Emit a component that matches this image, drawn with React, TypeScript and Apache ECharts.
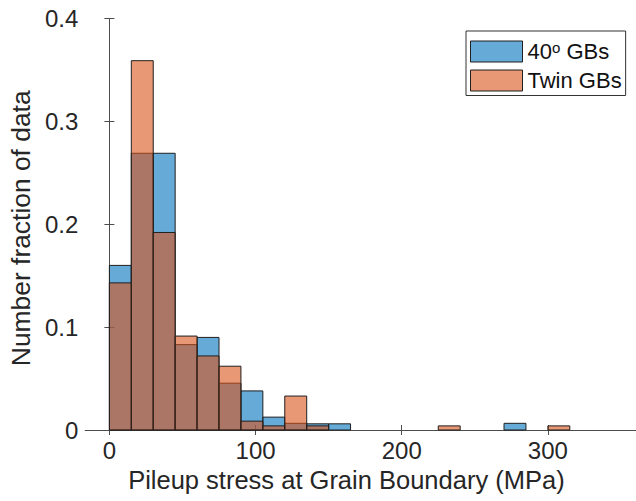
import React, { useEffect, useRef } from "react";
import * as echarts from "echarts";

const binWidth = 15;
const blueBinStarts = [0, 15, 30, 45, 60, 75, 90, 105, 120, 135, 150, 270];
const blueFractions = [0.16, 0.269, 0.269, 0.083, 0.09, 0.0455, 0.038, 0.0125, 0.0065, 0.006, 0.006, 0.0065];
const twinBinStarts = [0, 15, 30, 45, 60, 75, 90, 105, 120, 135, 225, 300];
const twinFractions = [0.143, 0.359, 0.192, 0.0913, 0.072, 0.062, 0.0086, 0.004, 0.033, 0.004, 0.004, 0.004];
const xTickValues = [0, 100, 200, 300];
const seriesNames = ["40° GBs", "Twin GBs"];

const FONT = "Liberation Sans, Arial, Helvetica, sans-serif";
const TEXT = "#262626";
const AXIS = "#4d4d4d";
const BLUE = "rgba(0,114,189,0.6)";
const ORANGE = "rgba(217,83,25,0.6)";
const EDGE = "#1f1f1f";

function histItem(fill: string) {
  return (params: any, api: any) => {
    const x0 = api.value(0);
    const h = api.value(1);
    const p1 = api.coord([x0, h]);
    const p2 = api.coord([x0 + binWidth, 0]);
    return {
      type: "rect",
      shape: { x: p1[0], y: p1[1], width: p2[0] - p1[0], height: p2[1] - p1[1] },
      style: { fill, stroke: EDGE, lineWidth: 1 },
    };
  };
}

export default function App() {
  const ref = useRef<HTMLDivElement>(null);
  useEffect(() => {
    if (!ref.current) return;
    const chart = echarts.init(ref.current, undefined, { renderer: "svg" });
    const axisCommon = {
      axisLine: { show: true, lineStyle: { color: AXIS, width: 1 } },
      splitLine: { show: false },
    };
    chart.setOption({
      animation: false,
      backgroundColor: "#ffffff",
      textStyle: { fontFamily: FONT },
      grid: { left: 79, top: 18.5, right: 1.5, bottom: 71, containLabel: false },
      legend: {
        data: seriesNames,
        orient: "vertical",
        left: 466,
        top: 31,
        padding: [9, 4, 4, 4],
        itemWidth: 52,
        itemHeight: 21,
        itemGap: 7,
        icon: "rect",
        backgroundColor: "#ffffff",
        borderColor: "#333333",
        borderWidth: 1,
        borderRadius: 0,
        itemStyle: { borderColor: EDGE, borderWidth: 1 },
        formatter: (name: string) => (name === seriesNames[0] ? "40{sup|o} GBs" : name),
        textStyle: {
          fontFamily: FONT,
          fontSize: 22,
          color: "#111111",
          rich: {
            sup: { fontFamily: FONT, fontSize: 15, color: "#111111", verticalAlign: "top", padding: [0, 0, 8, 0] },
          },
        },
      },
      xAxis: [
        {
          type: "value",
          min: -16.5,
          max: 362,
          ...axisCommon,
          axisTick: { show: true, inside: true, length: 5, customValues: xTickValues, lineStyle: { color: AXIS } },
          axisLabel: {
            show: true,
            customValues: xTickValues,
            margin: 8,
            fontSize: 24,
            color: TEXT,
            fontFamily: FONT,
          },
          name: "Pileup stress at Grain Boundary (MPa)",
          nameLocation: "middle",
          nameGap: 30,
          nameTextStyle: { fontSize: 25.5, color: TEXT, fontFamily: FONT, padding: [0, 31, 0, 0] },
        },
        {
          type: "value",
          position: "top",
          min: -16.5,
          max: 362,
          ...axisCommon,
          axisTick: { show: true, inside: true, length: 5, customValues: xTickValues, lineStyle: { color: AXIS } },
          axisLabel: { show: false },
        },
      ],
      yAxis: [
        {
          type: "value",
          min: 0,
          max: 0.4,
          interval: 0.1,
          ...axisCommon,
          axisTick: { show: true, inside: true, length: 5, lineStyle: { color: AXIS } },
          axisLabel: {
            margin: 7,
            fontSize: 24,
            color: TEXT,
            fontFamily: FONT,
            formatter: (v: number) => (v === 0 ? "0" : v.toFixed(1)),
          },
          name: "Number fraction of data",
          nameLocation: "middle",
          nameGap: 44,
          nameTextStyle: { fontSize: 26.4, color: TEXT, fontFamily: FONT, padding: [0, 8, 0, 0] },
        },
        {
          type: "value",
          position: "right",
          min: 0,
          max: 0.4,
          interval: 0.1,
          ...axisCommon,
          axisTick: { show: true, inside: true, length: 5, lineStyle: { color: AXIS } },
          axisLabel: { show: false },
        },
      ],
      series: [
        {
          name: seriesNames[0],
          type: "custom",
          xAxisIndex: 0,
          yAxisIndex: 0,
          renderItem: histItem(BLUE),
          itemStyle: { color: BLUE, borderColor: EDGE, borderWidth: 1 },
          encode: { x: 0, y: 1 },
          data: blueBinStarts.map((s, i) => [s, blueFractions[i]]),
          z: 2,
        },
        {
          name: seriesNames[1],
          type: "custom",
          xAxisIndex: 0,
          yAxisIndex: 0,
          renderItem: histItem(ORANGE),
          itemStyle: { color: ORANGE, borderColor: EDGE, borderWidth: 1 },
          encode: { x: 0, y: 1 },
          data: twinBinStarts.map((s, i) => [s, twinFractions[i]]),
          z: 3,
        },
      ],
    });
    return () => chart.dispose();
  }, []);
  return (
    <div
      ref={ref}
      style={{ position: "fixed", left: 0, top: 0, width: 640, height: 501, background: "#fff" }}
    />
  );
}
